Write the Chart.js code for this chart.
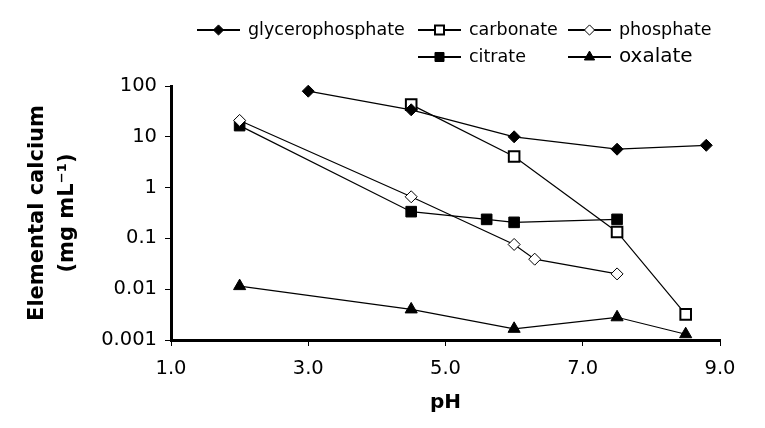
<!DOCTYPE html>
<html>
<head>
<meta charset="utf-8">
<script src="https://cdn.jsdelivr.net/npm/chart.js@4"></script>
<style>
  body { margin: 0; background: #fff; }
  canvas { display: block; }
</style>
</head>
<body>
<canvas id="calciumChart" width="765" height="428"></canvas>
<script>
// Data (pH vs elemental calcium, mg/mL)
const seriesNames = ["glycerophosphate", "carbonate", "phosphate", "citrate", "oxalate"];

const glyceroPH = [3.0, 4.5, 6.0, 7.5, 8.8];
const glyceroCa = [79, 34, 10, 5.7, 6.8];

const carbonatePH = [4.5, 6.0, 7.5, 8.5];
const carbonateCa = [43, 4.1, 0.134, 0.0032];

const phosphatePH = [2.0, 4.5, 6.0, 6.3, 7.5];
const phosphateCa = [21, 0.66, 0.076, 0.039, 0.020];

const citratePH = [2.0, 4.5, 5.6, 6.0, 7.5];
const citrateCa = [16.6, 0.336, 0.237, 0.207, 0.237];

const oxalatePH = [2.0, 4.5, 6.0, 7.5, 8.5];
const oxalateCa = [0.0115, 0.0040, 0.00166, 0.0028, 0.0013];

const yTickValues = [0.001, 0.01, 0.1, 1, 10, 100];
const yTickLabels = ["0.001", "0.01", "0.1", "1", "10", "100"];
const xTickLabels = ["1.0", "3.0", "5.0", "7.0", "9.0"];

function pts(xs, ys) {
  return xs.map((x, i) => ({ x: x, y: ys[i] }));
}

function series(i, xs, ys, style, radius, fill, bw) {
  return {
    label: seriesNames[i],
    data: pts(xs, ys),
    borderColor: "#000",
    borderWidth: 1.2,
    pointStyle: style,
    pointRadius: radius,
    pointHoverRadius: radius,
    pointBackgroundColor: fill,
    pointBorderColor: "#000",
    pointBorderWidth: bw,
    tension: 0,
    fill: false,
    clip: false
  };
}

// legend drawn by hand, two rows like the original
const legendPlugin = {
  id: "rowLegend",
  afterDraw(chart) {
    const ctx = chart.ctx;
    const spots = [[197, 30], [418, 30], [568, 30], [418, 57], [568, 57]];
    const fonts = ["17.5px", "17.5px", "17.5px", "17.5px", "20px"];
    chart.data.datasets.forEach((ds, i) => {
      const [x, y] = spots[i];
      ctx.save();
      ctx.strokeStyle = "#000";
      ctx.lineWidth = 2;
      ctx.beginPath();
      ctx.moveTo(x, y);
      ctx.lineTo(x + 43, y);
      ctx.stroke();
      ctx.fillStyle = ds.pointBackgroundColor;
      ctx.strokeStyle = "#000";
      ctx.lineWidth = ds.pointBorderWidth;
      Chart.helpers.drawPoint(ctx, {
        pointStyle: ds.pointStyle,
        radius: ds.pointRadius * 0.85,
        rotation: 0,
        borderWidth: ds.pointBorderWidth
      }, x + 21.5, y);
      ctx.fillStyle = "#000";
      ctx.font = fonts[i] + " 'DejaVu Sans'";
      ctx.textBaseline = "middle";
      ctx.textAlign = "left";
      ctx.fillText(ds.label, x + 51, y);
      ctx.restore();
    });
  }
};

Chart.defaults.font.family = "'DejaVu Sans'";
Chart.defaults.color = "#000";

new Chart(document.getElementById("calciumChart"), {
  type: "line",
  data: {
    datasets: [
      series(0, glyceroPH, glyceroCa, "rectRot", 6, "#000", 1),
      series(1, carbonatePH, carbonateCa, "rect", 7.5, "#fff", 2),
      series(2, phosphatePH, phosphateCa, "rectRot", 6, "#fff", 1),
      series(3, citratePH, citrateCa, "rect", 7.5, "#000", 1),
      series(4, oxalatePH, oxalateCa, "triangle", 7, "#000", 1)
    ]
  },
  options: {
    responsive: false,
    animation: false,
    events: [],
    layout: { padding: { top: 86, right: 45, left: 0, bottom: 0 } },
    plugins: {
      legend: { display: false },
      tooltip: { enabled: false }
    },
    scales: {
      x: {
        type: "linear",
        min: 1,
        max: 9,
        afterFit: s => { s.height = 88; },
        afterBuildTicks: s => {
          s.ticks = xTickLabels.map(t => ({ value: parseFloat(t) }));
        },
        ticks: {
          callback: (v, i) => xTickLabels[i],
          font: { size: 19.5 },
          padding: 11,
          maxRotation: 0
        },
        grid: { drawOnChartArea: false, drawTicks: true, tickLength: 6, color: "#000", tickWidth: 1 },
        border: { display: true, color: "#000", width: 3 },
        title: {
          display: true,
          text: "pH",
          font: { size: 20, weight: "bold" },
          padding: { top: 0, bottom: 13 }
        }
      },
      y: {
        type: "logarithmic",
        min: 0.001,
        max: 100,
        afterFit: s => { s.width = 171; },
        afterBuildTicks: s => {
          s.ticks = yTickValues.map(v => ({ value: v, major: true }));
        },
        ticks: {
          callback: (v, i) => yTickLabels[i],
          font: { size: 19.5 },
          padding: 8
        },
        grid: { drawOnChartArea: false, drawTicks: true, tickLength: 6, color: "#000", tickWidth: 1 },
        border: { display: true, color: "#000", width: 3 },
        title: {
          display: true,
          text: ["Elemental calcium", "(mg mL\u207B\u00B9)"],
          font: { size: 21, weight: "bold", lineHeight: 1.45 },
          padding: { top: 22, bottom: 0 }
        }
      }
    }
  },
  plugins: [legendPlugin]
});
</script>
</body>
</html>
